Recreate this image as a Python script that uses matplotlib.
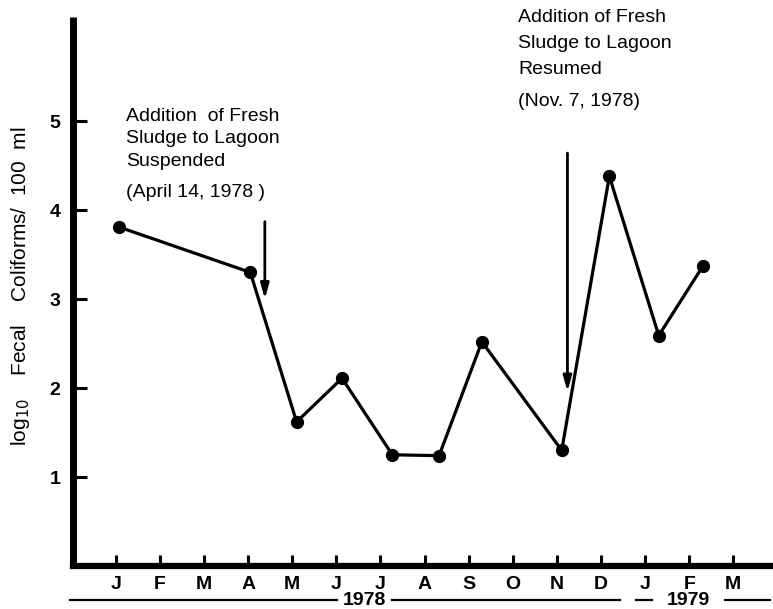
import matplotlib
matplotlib.use("Agg")
import matplotlib.pyplot as plt
from matplotlib.transforms import blended_transform_factory

# Data
months = ["J", "F", "M", "A", "M", "J", "J", "A", "S", "O", "N", "D", "J", "F", "M"]
sample_pos = [0.07, 3.05, 4.10, 5.13, 6.27, 7.33, 8.30, 10.11, 11.19, 12.31, 13.31]
log_fc = [3.81, 3.30, 1.62, 2.11, 1.25, 1.24, 2.52, 1.30, 4.38, 2.59, 3.37]
yticks = [1, 2, 3, 4, 5]
arrow_x = [3.38, 10.24]
arrow_top = [3.87, 4.64]
arrow_tip = [3.00, 1.96]
note1 = "Addition  of Fresh\nSludge to Lagoon\nSuspended"
date1 = "(April 14, 1978 )"
note2 = "Addition of Fresh\nSludge to Lagoon\nResumed"
date2 = "(Nov. 7, 1978)"

plt.rcParams['font.family'] = ['Liberation Sans', 'DejaVu Sans']

fig = plt.figure(figsize=(7.73, 6.09), dpi=100)
ax = fig.add_axes([0.0944, 0.0706, 0.9056, 0.9015])

ax.plot(sample_pos, log_fc, color='black', lw=2.3, marker='o', ms=8.5,
        solid_joinstyle='round', clip_on=False, zorder=3)

ax.set_xlim(-0.97, 14.9)
ax.set_ylim(0, 6.17)

for s in ['top', 'right']:
    ax.spines[s].set_visible(False)
ax.spines['left'].set_linewidth(5)
ax.spines['bottom'].set_linewidth(4.5)
ax.spines['left'].set_capstyle('butt')

ax.set_yticks(yticks)
ax.set_yticklabels([str(v) for v in yticks], fontsize=14, fontweight='bold')
ax.set_xticks(range(len(months)))
ax.set_xticklabels(months, fontsize=14, fontweight='bold')
ax.tick_params(axis='y', direction='in', length=10, width=2.2, pad=9)
ax.tick_params(axis='x', direction='in', length=8, width=2.2, pad=7)

ax.set_ylabel(r'log$_{10}$    Fecal    Coliforms/  100  ml', fontsize=15)
ax.yaxis.set_label_coords(-0.058, 0.51)

# arrows
for xa, yt, yb in zip(arrow_x, arrow_top, arrow_tip):
    ax.annotate('', xy=(xa, yb), xytext=(xa, yt),
                arrowprops=dict(arrowstyle='-|>,head_length=0.9,head_width=0.25',
                                color='black', lw=2.0, shrinkA=0, shrinkB=0))

# annotations
ax.text(0.23, 4.80, note1, fontsize=14, va='center', ha='left', linespacing=1.45)
ax.text(0.23, 4.20, date1, fontsize=14, va='center', ha='left')
ax.text(9.12, 5.87, note2, fontsize=14, va='center', ha='left', linespacing=1.7)
ax.text(9.12, 5.22, date2, fontsize=14, va='center', ha='left')

# year rows
tr = blended_transform_factory(ax.transData, ax.transAxes)
yl = -0.0620
segs = [(-1.04, 5.02), (6.27, 11.43), (11.80, 12.15), (13.81, 14.83)]
for a, b in segs:
    ax.plot([a, b], [yl, yl], color='black', lw=1.6, transform=tr, clip_on=False)
ax.text(5.645, yl, '1978', transform=tr, fontsize=14, fontweight='bold',
        ha='center', va='center')
ax.text(12.98, yl, '1979', transform=tr, fontsize=14, fontweight='bold',
        ha='center', va='center')

fig.savefig('out.png', dpi=100)
